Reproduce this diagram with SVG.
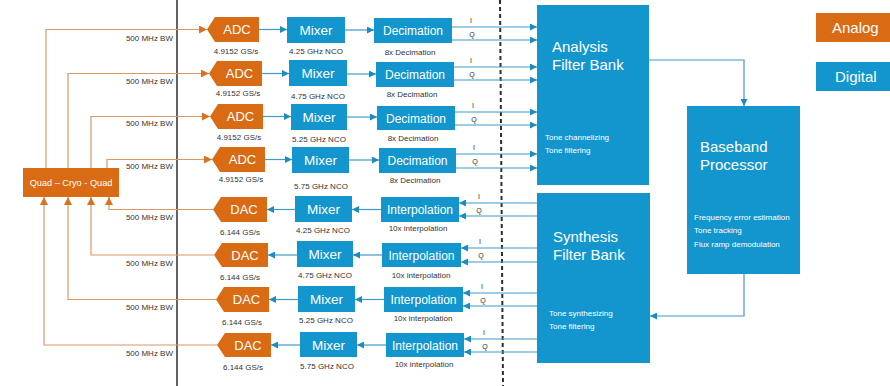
<svg xmlns="http://www.w3.org/2000/svg" width="890" height="386" viewBox="0 0 890 386">
  <style>
    .org { fill: #D96B14; }
    .blu { fill: #1396CE; }
    .wt { fill: #FFFFFF; font-family: "Liberation Sans", Arial, sans-serif; text-anchor: middle; }
    .st { text-anchor: start; }
    .big { font-size: 15px; }
    .blk { font-size: 13px; }
    .mix { font-size: 13.5px; }
    .sm { fill: #333333; font-family: "Liberation Sans", Arial, sans-serif; font-size: 8px; }
    .smw { fill: #FFFFFF; font-family: "Liberation Sans", Arial, sans-serif; font-size: 8px; }
    .iq { fill: #333333; font-family: "Liberation Sans", Arial, sans-serif; font-size: 7px; text-anchor: middle; }
    .mid { text-anchor: middle; }
    .end { text-anchor: end; }
    .bl { fill: none; stroke: #3F9CC8; stroke-width: 1.2; }
    .ol { fill: none; stroke: #DB9866; stroke-width: 1.2; }
  </style>
  <defs>
    <marker id="ab" viewBox="0 0 8 8" refX="8" refY="4" markerWidth="7" markerHeight="7" markerUnits="userSpaceOnUse" orient="auto">
      <path d="M0,0 L8,4 L0,8 z" fill="#1A8CC0"/>
    </marker>
    <marker id="ao" viewBox="0 0 8 8" refX="8" refY="4" markerWidth="8" markerHeight="8" markerUnits="userSpaceOnUse" orient="auto">
      <path d="M0,0 L8,4 L0,8 z" fill="#D9731F"/>
    </marker>
  </defs>

  <rect width="890" height="386" fill="#FFFFFF"/>

  <!-- boundary lines -->
  <line x1="177" y1="0" x2="177" y2="386" stroke="#3C3C3C" stroke-width="1.6"/>
  <line x1="500" y1="0" x2="503" y2="386" stroke="#2E2E2E" stroke-width="2" stroke-dasharray="4 3"/>

  <!-- connectors -->
  <g id="connectors">
    <!-- Quad to ADCs -->
    <polyline class="ol" points="46,168 46,29.5 207,29.5" marker-end="url(#ao)"/>
    <polyline class="ol" points="68,168 68,73.5 209,73.5" marker-end="url(#ao)"/>
    <polyline class="ol" points="91,168 91,116.5 210,116.5" marker-end="url(#ao)"/>
    <polyline class="ol" points="107,168 107,159.5 212,159.5" marker-end="url(#ao)"/>
    <!-- DACs to Quad -->
    <polyline class="ol" points="213,209.5 109,209.5 109,197" marker-end="url(#ao)"/>
    <polyline class="ol" points="214,255 91,255 91,197" marker-end="url(#ao)"/>
    <polyline class="ol" points="216,299.5 68,299.5 68,197" marker-end="url(#ao)"/>
    <polyline class="ol" points="217,345 44,345 44,197" marker-end="url(#ao)"/>

    <!-- ADC to Mixer -->
    <line class="bl" x1="259" y1="29.5" x2="287" y2="29.5" marker-end="url(#ab)"/>
    <line class="bl" x1="262" y1="73.5" x2="289" y2="73.5" marker-end="url(#ab)"/>
    <line class="bl" x1="263" y1="116.5" x2="291" y2="116.5" marker-end="url(#ab)"/>
    <line class="bl" x1="265" y1="159.5" x2="292" y2="159.5" marker-end="url(#ab)"/>
    <!-- Mixer to Decimation -->
    <line class="bl" x1="345" y1="30" x2="374" y2="30" marker-end="url(#ab)"/>
    <line class="bl" x1="347" y1="74" x2="376" y2="74" marker-end="url(#ab)"/>
    <line class="bl" x1="347" y1="117" x2="377" y2="117" marker-end="url(#ab)"/>
    <line class="bl" x1="349" y1="160" x2="379" y2="160" marker-end="url(#ab)"/>
    <!-- Decimation I/Q to Analysis Filter Bank -->
    <line class="bl" x1="452" y1="27" x2="537" y2="27" marker-end="url(#ab)"/>
    <line class="bl" x1="452" y1="40" x2="537" y2="40" marker-end="url(#ab)"/>
    <line class="bl" x1="454" y1="67" x2="537" y2="67" marker-end="url(#ab)"/>
    <line class="bl" x1="454" y1="80" x2="537" y2="80" marker-end="url(#ab)"/>
    <line class="bl" x1="455" y1="112" x2="537" y2="112" marker-end="url(#ab)"/>
    <line class="bl" x1="455" y1="125" x2="537" y2="125" marker-end="url(#ab)"/>
    <line class="bl" x1="456" y1="154" x2="537" y2="154" marker-end="url(#ab)"/>
    <line class="bl" x1="456" y1="168" x2="537" y2="168" marker-end="url(#ab)"/>

    <!-- Synthesis Filter Bank I/Q to Interpolation -->
    <line class="bl" x1="537" y1="203" x2="459" y2="203" marker-end="url(#ab)"/>
    <line class="bl" x1="537" y1="216" x2="459" y2="216" marker-end="url(#ab)"/>
    <line class="bl" x1="537" y1="248" x2="461" y2="248" marker-end="url(#ab)"/>
    <line class="bl" x1="537" y1="262" x2="461" y2="262" marker-end="url(#ab)"/>
    <line class="bl" x1="537" y1="293" x2="463" y2="293" marker-end="url(#ab)"/>
    <line class="bl" x1="537" y1="306" x2="463" y2="306" marker-end="url(#ab)"/>
    <line class="bl" x1="537" y1="339" x2="464" y2="339" marker-end="url(#ab)"/>
    <line class="bl" x1="537" y1="352" x2="464" y2="352" marker-end="url(#ab)"/>
    <!-- Interpolation to Mixer -->
    <line class="bl" x1="381" y1="209.5" x2="352" y2="209.5" marker-end="url(#ab)"/>
    <line class="bl" x1="382" y1="255" x2="353" y2="255" marker-end="url(#ab)"/>
    <line class="bl" x1="384" y1="299.5" x2="355" y2="299.5" marker-end="url(#ab)"/>
    <line class="bl" x1="386" y1="345" x2="357" y2="345" marker-end="url(#ab)"/>
    <!-- Mixer to DAC -->
    <line class="bl" x1="295" y1="209.5" x2="267" y2="209.5" marker-end="url(#ab)"/>
    <line class="bl" x1="297" y1="255" x2="268" y2="255" marker-end="url(#ab)"/>
    <line class="bl" x1="298" y1="299.5" x2="269" y2="299.5" marker-end="url(#ab)"/>
    <line class="bl" x1="300" y1="345" x2="271" y2="345" marker-end="url(#ab)"/>

    <!-- filter banks and baseband processor -->
    <polyline class="bl" points="649,60 744,60 744,106" marker-end="url(#ab)"/>
    <polyline class="bl" points="744,274 744,316 650,316" marker-end="url(#ab)"/>
  </g>

  <!-- bandwidth labels -->
  <g id="bw-labels" class="sm end">
    <text x="173" y="41">500 MHz BW</text>
    <text x="173" y="83.5">500 MHz BW</text>
    <text x="173" y="126">500 MHz BW</text>
    <text x="173" y="168.5">500 MHz BW</text>
    <text x="173" y="220">500 MHz BW</text>
    <text x="173" y="265.5">500 MHz BW</text>
    <text x="173" y="309.5">500 MHz BW</text>
    <text x="173" y="355.5">500 MHz BW</text>
  </g>

  <!-- I/Q labels -->
  <g id="iq-labels" class="iq">
    <text x="471" y="23">I</text><text x="472" y="36.5">Q</text>
    <text x="471" y="63">I</text><text x="472" y="76.5">Q</text>
    <text x="473" y="108">I</text><text x="474" y="121.5">Q</text>
    <text x="474" y="150">I</text><text x="475" y="164">Q</text>
    <text x="479" y="199">I</text><text x="479" y="212.5">Q</text>
    <text x="480" y="244">I</text><text x="481" y="258">Q</text>
    <text x="482" y="289">I</text><text x="483" y="302.5">Q</text>
    <text x="484" y="335">I</text><text x="485" y="348.5">Q</text>
  </g>

  <!-- Quad-Cryo-Quad -->
  <g id="quad">
    <rect class="org" x="23" y="168" width="96" height="29"/>
    <text class="wt" x="71" y="186" font-size="9.2">Quad – Cryo - Quad</text>
  </g>

  <!-- ADCs -->
  <g id="adc1">
    <polygon class="org" points="207,29.5 215,17 259,17 259,42 215,42"/>
    <text class="wt blk" x="237" y="34">ADC</text>
    <text class="sm mid" x="236" y="54">4.9152 GS/s</text>
  </g>
  <g id="adc2">
    <polygon class="org" points="209,73.5 217,61 262,61 262,86 217,86"/>
    <text class="wt blk" x="239.5" y="78">ADC</text>
    <text class="sm mid" x="238" y="96">4.9152 GS/s</text>
  </g>
  <g id="adc3">
    <polygon class="org" points="210,116.5 218,104 263,104 263,129 218,129"/>
    <text class="wt blk" x="240.5" y="121">ADC</text>
    <text class="sm mid" x="239" y="139.5">4.9152 GS/s</text>
  </g>
  <g id="adc4">
    <polygon class="org" points="212,159.5 220,147 265,147 265,172 220,172"/>
    <text class="wt blk" x="242.5" y="164">ADC</text>
    <text class="sm mid" x="241" y="182">4.9152 GS/s</text>
  </g>

  <!-- DACs -->
  <g id="dac1">
    <polygon class="org" points="213,209.5 221,197 267,197 267,222 221,222"/>
    <text class="wt blk" x="244" y="214">DAC</text>
    <text class="sm mid" x="240" y="235">6.144 GS/s</text>
  </g>
  <g id="dac2">
    <polygon class="org" points="214,255 222,243 268,243 268,267 222,267"/>
    <text class="wt blk" x="245" y="259.5">DAC</text>
    <text class="sm mid" x="240" y="280">6.144 GS/s</text>
  </g>
  <g id="dac3">
    <polygon class="org" points="216,299.5 224,287 269,287 269,312 224,312"/>
    <text class="wt blk" x="246.5" y="304">DAC</text>
    <text class="sm mid" x="242" y="324.5">6.144 GS/s</text>
  </g>
  <g id="dac4">
    <polygon class="org" points="217,345 225,333 271,333 271,357 225,357"/>
    <text class="wt blk" x="248" y="349.5">DAC</text>
    <text class="sm mid" x="243" y="370">6.144 GS/s</text>
  </g>

  <!-- receive mixers -->
  <g id="mixer1">
    <rect class="blu" x="287" y="17" width="58" height="26"/>
    <text class="wt mix" x="316" y="35">Mixer</text>
    <text class="sm mid" x="316" y="54">4.25 GHz NCO</text>
  </g>
  <g id="mixer2">
    <rect class="blu" x="289" y="60" width="58" height="26"/>
    <text class="wt mix" x="318" y="78">Mixer</text>
    <text class="sm mid" x="318" y="98.5">4.75 GHz NCO</text>
  </g>
  <g id="mixer3">
    <rect class="blu" x="291" y="104" width="56" height="26"/>
    <text class="wt mix" x="319" y="122">Mixer</text>
    <text class="sm mid" x="319" y="141.5">5.25 GHz NCO</text>
  </g>
  <g id="mixer4">
    <rect class="blu" x="292" y="147" width="57" height="26"/>
    <text class="wt mix" x="320.5" y="165">Mixer</text>
    <text class="sm mid" x="321" y="188.5">5.75 GHz NCO</text>
  </g>

  <!-- decimation stages -->
  <g id="dec1">
    <rect class="blu" x="374" y="18" width="78" height="25"/>
    <text class="wt" x="413" y="35" font-size="12">Decimation</text>
    <text class="sm mid" x="410" y="55">8x Decimation</text>
  </g>
  <g id="dec2">
    <rect class="blu" x="376" y="62" width="78" height="25"/>
    <text class="wt" x="415" y="79" font-size="12">Decimation</text>
    <text class="sm mid" x="412" y="97">8x Decimation</text>
  </g>
  <g id="dec3">
    <rect class="blu" x="377" y="106" width="78" height="24"/>
    <text class="wt" x="416" y="122.5" font-size="12">Decimation</text>
    <text class="sm mid" x="413" y="140.5">8x Decimation</text>
  </g>
  <g id="dec4">
    <rect class="blu" x="379" y="148" width="77" height="25"/>
    <text class="wt" x="417.5" y="165" font-size="12">Decimation</text>
    <text class="sm mid" x="415" y="183">8x Decimation</text>
  </g>

  <!-- transmit mixers -->
  <g id="mixer5">
    <rect class="blu" x="295" y="196" width="57" height="26"/>
    <text class="wt mix" x="323.5" y="214">Mixer</text>
    <text class="sm mid" x="323" y="233">4.25 GHz NCO</text>
  </g>
  <g id="mixer6">
    <rect class="blu" x="297" y="241" width="56" height="26"/>
    <text class="wt mix" x="325" y="259">Mixer</text>
    <text class="sm mid" x="325" y="278">4.75 GHz NCO</text>
  </g>
  <g id="mixer7">
    <rect class="blu" x="298" y="286" width="57" height="26"/>
    <text class="wt mix" x="326.5" y="304">Mixer</text>
    <text class="sm mid" x="326" y="322.5">5.25 GHz NCO</text>
  </g>
  <g id="mixer8">
    <rect class="blu" x="300" y="332" width="57" height="25"/>
    <text class="wt mix" x="328.5" y="349.5">Mixer</text>
    <text class="sm mid" x="327" y="369">5.75 GHz NCO</text>
  </g>

  <!-- interpolation stages -->
  <g id="int1">
    <rect class="blu" x="381" y="197" width="78" height="25"/>
    <text class="wt" x="420" y="214" font-size="12">Interpolation</text>
    <text class="sm mid" x="418" y="231">10x interpolation</text>
  </g>
  <g id="int2">
    <rect class="blu" x="382" y="243" width="79" height="24"/>
    <text class="wt" x="421.5" y="259.5" font-size="12">Interpolation</text>
    <text class="sm mid" x="421" y="278">10x interpolation</text>
  </g>
  <g id="int3">
    <rect class="blu" x="384" y="287" width="79" height="25"/>
    <text class="wt" x="423.5" y="304" font-size="12">Interpolation</text>
    <text class="sm mid" x="423" y="321">10x interpolation</text>
  </g>
  <g id="int4">
    <rect class="blu" x="386" y="333" width="78" height="24"/>
    <text class="wt" x="425" y="349.5" font-size="12">Interpolation</text>
    <text class="sm mid" x="424" y="367">10x interpolation</text>
  </g>

  <!-- filter banks -->
  <g id="analysis">
    <rect class="blu" x="537" y="5" width="112" height="180"/>
    <text class="wt big st" x="552" y="52">Analysis</text>
    <text class="wt big st" x="552" y="70">Filter Bank</text>
    <text class="smw" x="545" y="140">Tone channelizing</text>
    <text class="smw" x="545" y="152.5">Tone filtering</text>
  </g>
  <g id="synthesis">
    <rect class="blu" x="537" y="193" width="113" height="170"/>
    <text class="wt big st" x="553" y="242">Synthesis</text>
    <text class="wt big st" x="553" y="260">Filter Bank</text>
    <text class="smw" x="549" y="316">Tone synthesizing</text>
    <text class="smw" x="549" y="328.5">Tone filtering</text>
  </g>

  <!-- baseband processor -->
  <g id="baseband">
    <rect class="blu" x="687" y="106" width="113" height="168"/>
    <text class="wt big st" x="700" y="152">Baseband</text>
    <text class="wt big st" x="700" y="170">Processor</text>
    <text class="smw" x="694" y="220">Frequency error estimation</text>
    <text class="smw" x="694" y="232.5">Tone tracking</text>
    <text class="smw" x="694" y="246.5">Flux ramp demodulation</text>
  </g>

  <!-- legend -->
  <g id="legend-analog">
    <rect class="org" x="816" y="13" width="74" height="29"/>
    <text class="wt big st" x="832" y="33">Analog</text>
  </g>
  <g id="legend-digital">
    <rect class="blu" x="816" y="62" width="74" height="29"/>
    <text class="wt big st" x="835" y="82">Digital</text>
  </g>
</svg>
